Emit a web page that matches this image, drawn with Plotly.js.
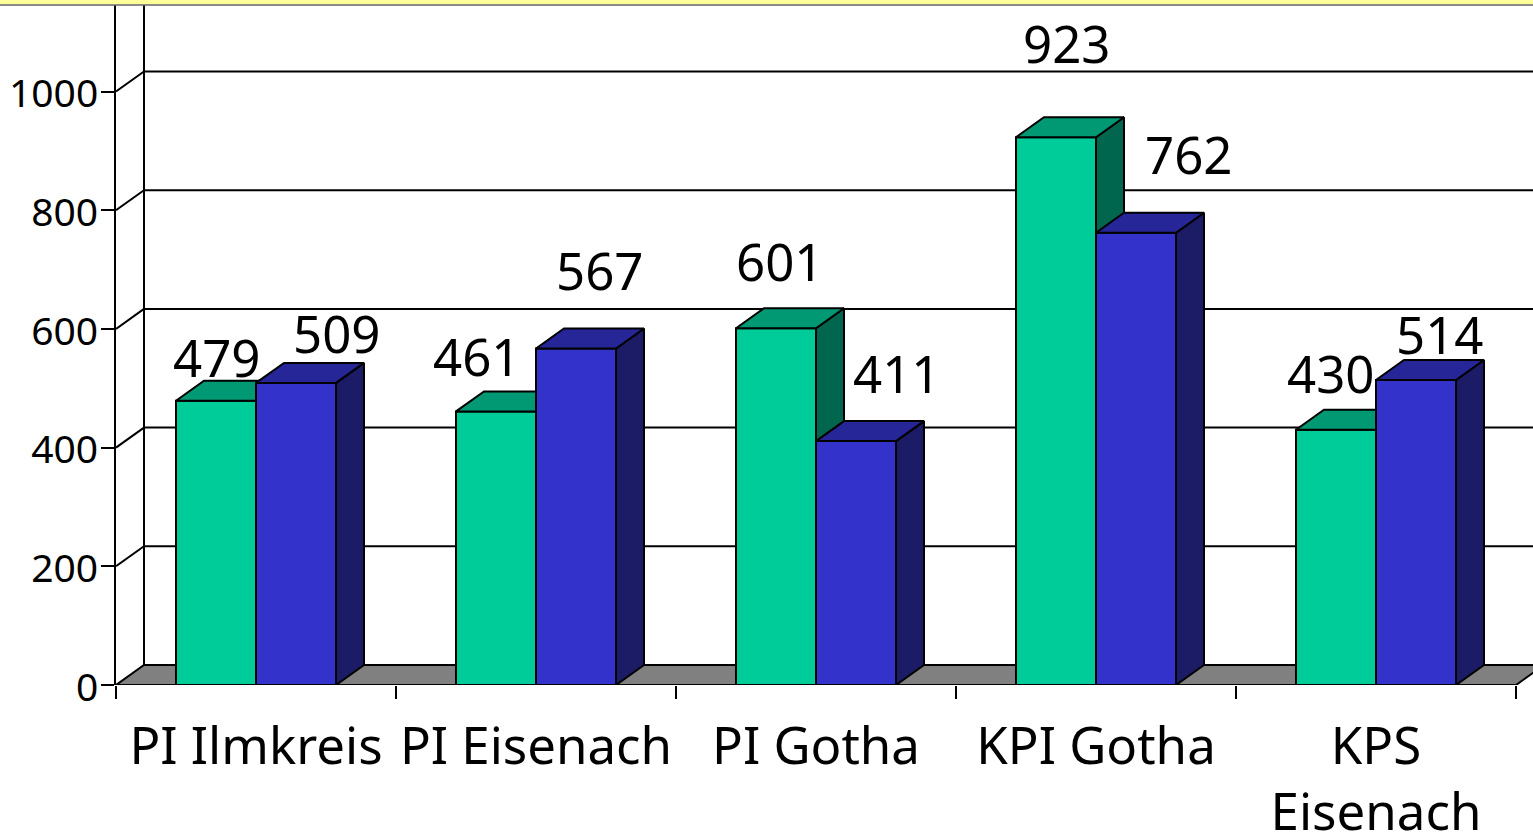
<!DOCTYPE html>
<html><head><meta charset="utf-8">
<script src="https://cdn.plot.ly/plotly-3.0.1.min.js"></script>
<style>html,body{margin:0;padding:0;background:#fff}#c{width:1533px;height:838px}</style>
</head><body><div id="c"></div>
<script>
var categories = ["PI Ilmkreis","PI Eisenach","PI Gotha","KPI Gotha","KPS<br>Eisenach"];
var greenValues = [479,461,601,923,430];
var blueValues = [509,567,411,762,514];
var yTicks = [0,200,400,600,800,1000];
// hand placed label offsets (px) relative to bar centre / bar top
var greenLabelDx = [1,-19,4,11,-5];
var greenLabelDy = [44,55,67,94,57];
var blueLabelDx = [41,24,41,53,24];
var blueLabelDy = [50,78,68,79,46];

var W=1533,H=838,x0=116,catW=280,y0=685,yTop=5,pxPerUnit=0.5935;
var xR=[-0.5,(W-x0)/catW-0.5], yR=[0,(y0-yTop)/pxPerUnit];
var dX=28/catW, dY=20/pxPerUnit, barW=80/catW;
var INK='#000', LW=2, F='"Noto Sans",Tahoma,sans-serif';
var idx=categories.map(function(_,i){return i;});

function poly(xs,ys,fill,xa){return {type:'scatter',mode:'lines',x:xs,y:ys,fill:'toself',fillcolor:fill,
  line:{color:INK,width:LW},hoverinfo:'skip',showlegend:false,xaxis:xa,yaxis:'y'};}
function faces(vals,x1,topC,sideC,xa){
  var out=[];
  vals.forEach(function(v,i){
    var l=i+x1,r=l+barW;
    out.push(poly([r,r+dX,r+dX,r,r],[0,dY,v+dY,v,0],sideC,xa));
    out.push(poly([l,l+dX,r+dX,r,l],[v,v+dY,v+dY,v,v],topC,xa));
  });
  return out;
}
var traces=[
 {type:'bar',x:idx.map(function(i){return i-barW/2;}),y:greenValues,width:barW,marker:{color:'#00cc99',line:{color:INK,width:LW}},hoverinfo:'skip',showlegend:false,xaxis:'x',yaxis:'y'}
].concat(faces(greenValues,-barW,'#009973','#00664d','x'));
traces=traces.concat(faces(blueValues,0,'#262699','#1c1c66','x2'));
traces.push({type:'bar',x:idx.map(function(i){return i+barW/2;}),y:blueValues,width:barW,marker:{color:'#3333cc',line:{color:INK,width:LW}},hoverinfo:'skip',showlegend:false,xaxis:'x2',yaxis:'y'});

var shapes=[];
// floor
shapes.push({type:'path',xref:'x',yref:'y',layer:'below',
 path:'M'+xR[0]+',0 L'+(xR[0]+dX)+','+dY+' L'+(4.5+dX)+','+dY+' L4.5,0 Z',
 fillcolor:'#808080',line:{color:INK,width:LW}});
// back wall gridlines, side wall diagonals and wall edge
yTicks.slice(1).forEach(function(v){
 shapes.push({type:'line',xref:'x',yref:'y',layer:'below',x0:xR[0]+dX,x1:xR[1],y0:v+dY,y1:v+dY,line:{color:INK,width:LW}});
 shapes.push({type:'line',xref:'x',yref:'y',layer:'below',x0:xR[0],x1:xR[0]+dX,y0:v,y1:v+dY,line:{color:INK,width:LW}});
});
shapes.push({type:'line',xref:'x',yref:'y',layer:'below',x0:xR[0]+dX,x1:xR[0]+dX,y0:dY,y1:yR[1],line:{color:INK,width:LW}});
// top band
shapes.push({type:'rect',xref:'paper',yref:'paper',layer:'above',x0:0,x1:1,y0:(H-4.5)/H,y1:1,fillcolor:'#ffff99',line:{width:0}});
shapes.push({type:'line',xref:'paper',yref:'paper',layer:'above',x0:0,x1:1,y0:(H-5)/H,y1:(H-5)/H,line:{color:'#666',width:1.5}});

var annotations=[];
function lab(vals,off,dx,dy){vals.forEach(function(v,i){
 annotations.push({x:i+off,y:v,xref:'x',yref:'y',text:String(v),showarrow:false,xanchor:'center',yanchor:'middle',
  xshift:dx[i],yshift:dy[i],font:{family:F,size:51,color:INK}});
});}
lab(greenValues,-barW/2,greenLabelDx,greenLabelDy);
lab(blueValues,barW/2,blueLabelDx,blueLabelDy);

var bounds=[];for(var b=0;b<=5;b++)bounds.push(b-0.5);
var layout={width:W,height:H,margin:{l:0,r:0,t:0,b:0},paper_bgcolor:'#fff',plot_bgcolor:'rgba(0,0,0,0)',
 showlegend:false,barmode:'overlay',shapes:shapes,annotations:annotations,font:{family:F,color:INK},
 xaxis:{domain:[x0/W,1],range:xR,anchor:'y',tickmode:'array',tickvals:idx,ticktext:categories,ticks:'',ticklen:0,tickangle:0,ticklabelstandoff:27,
  showgrid:false,zeroline:false,showline:false,tickfont:{family:F,size:51,color:INK},
  minor:{tickmode:'array',tickvals:bounds,ticks:'outside',ticklen:13,tickcolor:INK,tickwidth:2,showgrid:false}},
 xaxis2:{domain:[x0/W,1],range:xR,overlaying:'x',anchor:'y',visible:false},
 yaxis:{domain:[(H-y0)/H,(H-yTop)/H],range:yR,anchor:'x',tickmode:'array',tickvals:yTicks,ticks:'outside',ticklen:13,tickcolor:INK,tickwidth:2,ticklabelstandoff:-5,ticklabelshift:2,
  showgrid:false,zeroline:false,showline:true,linecolor:INK,linewidth:2,tickfont:{family:F,size:39,color:INK}}
};
Plotly.newPlot('c',traces,layout,{displayModeBar:false,staticPlot:true});
</script></body></html>
